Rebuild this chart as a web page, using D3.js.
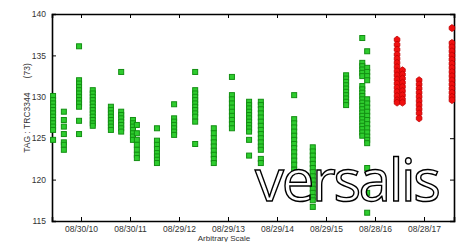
<!DOCTYPE html>
<html>
<head>
<meta charset="utf-8">
<script src="https://cdn.jsdelivr.net/npm/d3@7"></script>
<style>
  body { margin: 0; background: #fff; overflow: hidden; }
  svg { display: block; font-family: "Liberation Sans", Arial, sans-serif; }
</style>
</head>
<body>
<div id="chart"></div>
<script>
// x position is in tick units (0 = first tick label), y is the tag value
const xTickLabels = ['08/30/10', '08/30/11', '08/29/12', '08/29/13', '08/29/14', '08/29/15', '08/28/16', '08/28/17'];
const yTicks = [115, 120, 125, 130, 135, 140];

// green columns : [x, [values]]
const greenColumns = [
  [-0.57, [130.1, 129.6, 129.2, 128.8, 128.4, 128.0, 127.6, 127.2, 126.8, 126.4, 126.0, 124.8]],
  [-0.35, [128.2, 127.2, 126.4, 125.5, 124.5, 124.2, 123.6]],
  [-0.04, [136.1, 132.0, 131.6, 131.2, 130.8, 130.4, 130.0, 129.6, 129.2, 128.8, 127.1, 125.5]],
  [0.24, [130.8, 130.4, 130.0, 129.6, 129.2, 128.8, 128.4, 128.0, 127.6, 127.2, 126.8, 126.5]],
  [0.61, [128.8, 128.4, 128.0, 127.6, 127.2, 126.8, 126.4, 126.0]],
  [0.82, [133.0, 128.2, 127.8, 127.4, 127.0, 126.6, 126.2, 125.8]],
  [1.06, [127.2, 126.8, 126.4, 126.0, 125.6, 125.2, 124.8]],
  [1.14, [126.6, 125.6, 124.8, 124.2, 123.6, 123.0, 122.6]],
  [1.55, [126.2, 124.7, 124.2, 123.7, 123.2, 122.8, 122.4, 122.0]],
  [1.90, [129.1, 127.4, 127.0, 126.6, 126.2, 125.8, 125.4]],
  [2.33, [133.0, 130.8, 130.4, 130.0, 129.6, 129.2, 128.8, 128.4, 128.0, 127.6, 127.0, 124.3]],
  [2.71, [126.2, 125.6, 125.0, 124.5, 124.0, 123.5, 123.0, 122.5, 122.0]],
  [3.08, [132.4, 130.2, 129.7, 129.2, 128.7, 128.2, 127.7, 127.2, 126.7, 126.2]],
  [3.43, [129.4, 129.0, 128.6, 128.2, 127.8, 127.4, 127.0, 126.6, 126.2, 125.8, 124.8, 122.9]],
  [3.67, [129.4, 129.0, 128.5, 128.0, 127.5, 127.0, 126.5, 126.0, 125.5, 125.0, 124.5, 124.0, 123.6, 122.5, 122.0]],
  [4.35, [130.2, 127.3, 126.8, 126.3, 125.8, 125.3, 124.8, 124.3, 123.8, 123.3, 122.8, 122.3, 121.8, 121.2]],
  [4.73, [123.9, 123.4, 122.9, 122.4, 121.9, 121.4, 120.9, 120.4, 119.9, 119.4, 118.9, 118.4, 117.9, 117.5, 116.7]],
  [5.41, [132.6, 132.2, 131.8, 131.4, 131.0, 130.6, 130.2, 129.8, 129.4, 129.0]],
  [5.74, [137.1, 134.1, 133.7, 133.3, 132.9, 132.5, 131.3, 130.9, 130.5, 130.1, 129.7, 129.3, 128.9, 128.5, 128.1, 127.7, 127.3, 126.9, 126.5, 126.1, 125.7, 125.3]],
  [5.84, [135.5, 133.5, 133.0, 132.5, 132.0, 129.7, 129.2, 128.7, 128.2, 127.7, 127.2, 126.7, 126.2, 125.7, 125.2, 124.8, 124.4, 121.4, 118.4, 116.0]]
];

// red columns : [x, [values]]
const redColumns = [
  [6.45, [136.9, 136.3, 135.7, 135.1, 134.6, 134.1, 133.6, 133.1, 132.6, 132.1, 131.6, 131.1, 130.6, 130.1, 129.6, 129.3]],
  [6.56, [133.2, 132.7, 132.2, 131.7, 131.2, 130.7, 130.2, 129.7, 129.3]],
  [6.90, [132.0, 131.5, 131.0, 130.5, 130.0, 129.5, 129.0, 128.5, 128.0, 127.4]],
  [7.57, [138.3, 136.5, 136.0, 135.5, 135.0, 134.5, 134.0, 133.5, 133.0, 132.5, 132.0, 131.5, 131.0, 130.5, 130.0, 129.6]]
];

const width = 464, height = 242;
const margin = { top: 14, right: 10, bottom: 21, left: 52 };

const svg = d3.select('#chart').append('svg')
  .attr('width', width)
  .attr('height', height);

const x = d3.scaleLinear()
  .domain([-0.592, 7.612])
  .range([margin.left, width - margin.right]);

const y = d3.scaleLinear()
  .domain([115, 140])
  .range([height - margin.bottom, margin.top]);

const tickIdx = d3.range(xTickLabels.length);

// axes with inward ticks
svg.append('g')
  .attr('transform', `translate(0,${height - margin.bottom})`)
  .call(d3.axisBottom(x).tickValues(tickIdx).tickFormat(i => xTickLabels[i]).tickSize(-4).tickPadding(5))
  .call(g => g.selectAll('text').attr('font-size', 8.5).attr('fill', '#333'));

svg.append('g')
  .attr('transform', `translate(0,${margin.top})`)
  .call(d3.axisTop(x).tickValues(tickIdx).tickFormat('').tickSize(-4));

svg.append('g')
  .attr('transform', `translate(${margin.left},0)`)
  .call(d3.axisLeft(y).tickValues(yTicks).tickSize(-4).tickPadding(6))
  .call(g => g.selectAll('text').attr('font-size', 8.5).attr('fill', '#333'));

svg.append('g')
  .attr('transform', `translate(${width - margin.right},0)`)
  .call(d3.axisRight(y).tickValues(yTicks).tickFormat('').tickSize(-4));

svg.selectAll('.domain').attr('stroke', '#000').attr('stroke-width', 1.6);
svg.selectAll('.tick line').attr('stroke', '#000');

// labels (the x title sits at the very bottom edge, as in the original)
svg.append('text')
  .attr('x', 224).attr('y', 241)
  .attr('text-anchor', 'middle')
  .attr('font-size', 8).attr('fill', '#333')
  .text('Arbitrary Scale');

svg.append('text')
  .attr('transform', 'translate(30,108) rotate(-90)')
  .attr('text-anchor', 'middle')
  .attr('font-size', 8.5).attr('fill', '#333')
  .attr('xml:space', 'preserve')
  .text('TAG : TRC3344      (73)');

// points
const plot = svg.append('g');

const greenPts = greenColumns.flatMap(([t, vals]) => vals.map(v => [t, v]));
const redPts = redColumns.flatMap(([t, vals]) => vals.map(v => [t, v]));

plot.selectAll('.g')
  .data(greenPts)
  .enter()
  .append('rect')
  .attr('x', d => x(d[0]) - 2.5)
  .attr('y', d => y(d[1]) - 2.5)
  .attr('width', 5)
  .attr('height', 5)
  .attr('fill', '#2ecc2e')
  .attr('stroke', '#138f13')
  .attr('stroke-width', 1);

plot.selectAll('.r')
  .data(redPts)
  .enter()
  .append('path')
  .attr('transform', d => `translate(${x(d[0])},${y(d[1])})`)
  .attr('d', 'M0,-3.5 L2.8,-1.5 L2.8,1.5 L0,3.5 L-2.8,1.5 L-2.8,-1.5 Z')
  .attr('fill', '#f01010')
  .attr('stroke', '#c00000')
  .attr('stroke-width', 0.8);

// logo
svg.append('text')
  .attr('x', 255).attr('y', 201)
  .attr('font-family', '"Open Sans", sans-serif')
  .attr('font-size', 58)
  .attr('fill', '#fff')
  .attr('stroke', '#000')
  .attr('stroke-width', 1.4)
  .attr('textLength', 186)
  .text('versalis');
</script>
</body>
</html>
